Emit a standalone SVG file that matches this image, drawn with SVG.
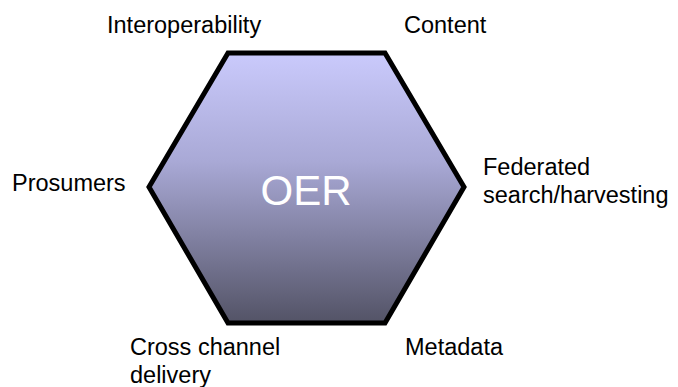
<svg xmlns="http://www.w3.org/2000/svg" width="678" height="387" viewBox="0 0 678 387">
<style>
.lbl{font-family:"Liberation Sans",Arial,sans-serif;font-size:23.5px;fill:#000}
.hex{stroke:#000;stroke-width:5;stroke-linejoin:miter}
.big{font-family:"Liberation Sans",Arial,sans-serif;font-size:42px;fill:#fff;text-anchor:middle}
</style>
<defs>
<linearGradient id="g" x1="0" y1="0" x2="0" y2="1">
<stop offset="0" stop-color="#cacafc"/>
<stop offset="0.4" stop-color="#a9a9d6"/>
<stop offset="1" stop-color="#535366"/>
</linearGradient>
</defs>
<rect width="678" height="387" fill="#fff"/>
<g id="oer">
<polygon class="hex" fill="url(#g)" points="228,53 385,53 464,187 385,323 228,323 149,187"/>
<text class="big" x="306" y="205">OER</text>
</g>
<g id="interoperability"><text class="lbl" x="107" y="33">Interoperability</text></g>
<g id="content"><text class="lbl" x="404" y="33">Content</text></g>
<g id="prosumers"><text class="lbl" x="12" y="191">Prosumers</text></g>
<g id="federated"><text class="lbl" x="483" y="175">Federated</text><text class="lbl" x="483" y="203">search/harvesting</text></g>
<g id="cross"><text class="lbl" x="130" y="355">Cross channel</text><text class="lbl" x="130" y="383">delivery</text></g>
<g id="metadata"><text class="lbl" x="405" y="355">Metadata</text></g>
<g id="connectors"></g>
</svg>
